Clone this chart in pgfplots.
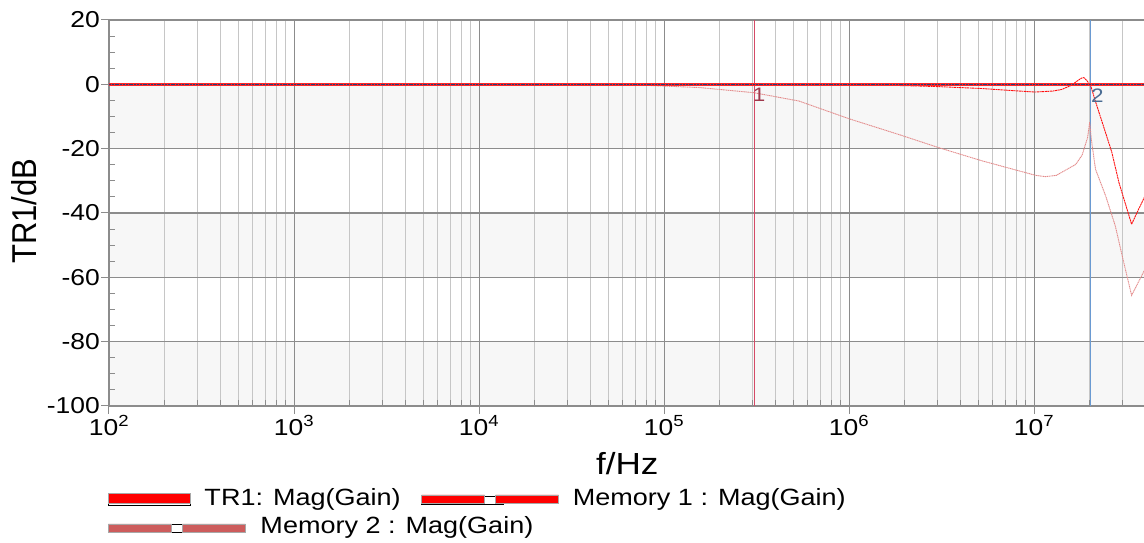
\documentclass[border=0pt]{standalone}
\usepackage{fontspec}
\setmainfont{Liberation Sans}[FakeStretch=1.15]
\newfontfamily\yfont{Liberation Sans}[FakeStretch=0.9]
\usepackage{pgfplots}
\pgfplotsset{compat=1.18}
\definecolor{memone}{HTML}{FF1010}
\definecolor{memtwoline}{HTML}{E38A8A}
\definecolor{memtwo}{HTML}{CD5C5C}
\definecolor{navyl}{HTML}{23407E}
\definecolor{mkone}{HTML}{D44A66}
\definecolor{mktwo}{HTML}{6A9AD2}
\definecolor{band}{HTML}{F7F7F7}
\definecolor{gmaj}{HTML}{8C8C8C}
\definecolor{gmin}{HTML}{C6C6C6}
\definecolor{legbord}{HTML}{A8A8A8}
\begin{document}
\begin{tikzpicture}
\begin{axis}[
  set layers,
  xmode=log, log basis x=10,
  scale only axis, width=1036.4pt, height=386pt,
  xmin=1e2, xmax=4e7, ymin=-100, ymax=20,
  xtick={1e2,1e3,1e4,1e5,1e6,1e7},
  minor xtick={200,300,400,500,600,700,800,900,
    2000,3000,4000,5000,6000,7000,8000,9000,
    2e4,3e4,4e4,5e4,6e4,7e4,8e4,9e4,
    2e5,3e5,4e5,5e5,6e5,7e5,8e5,9e5,
    2e6,3e6,4e6,5e6,6e6,7e6,8e6,9e6,
    2e7,3e7},
  xticklabels={10\textsuperscript{2},10\textsuperscript{3},10\textsuperscript{4},10\textsuperscript{5},10\textsuperscript{6},10\textsuperscript{7}},
  ytick={-100,-80,-60,-40,-20,0,20},
  yticklabels={-100,-80,-60,-40,-20,0,20},
  minor ytick={-95,-90,-85,-75,-70,-65,-55,-50,-45,-35,-30,-25,-15,-10,-5,5,10,15},
  xtick pos=bottom, ytick pos=left,
  tick align=outside,
  major tick length=8pt,
  minor tick length=-6pt,
  xmajorgrids, xminorgrids, ymajorgrids,
  major x grid style={gmaj, line width=1pt},
  minor x grid style={gmin, line width=1pt},
  major y grid style={gmaj, line width=1.2pt},
  axis line style={gmaj, line width=1.6pt},
  tick style={gmaj, line width=1pt},
  tick label style={font=\fontsize{23}{27}\selectfont, black},
  xticklabel style={inner sep=0pt, yshift=-1pt},
  yticklabel style={inner sep=0pt, xshift=-1pt},
  xlabel={f/Hz},
  xlabel style={at={(axis description cs:0.5,0)}, anchor=base, yshift=-69pt, font=\fontsize{30.5}{34}\selectfont},
  ylabel={\yfont TR1/dB},
  ylabel style={at={([xshift=-72pt]axis description cs:0,0.505)}, anchor=base, font=\fontsize{34.5}{38}\selectfont},
  legend columns=2,
  legend cell align=left,
  legend style={at={(axis description cs:0,0)}, anchor=north west, xshift=-1pt, yshift=-82pt,
    draw=none, fill=none, inner sep=0pt, outer sep=0pt, row sep=4pt, column sep=0pt,
    font=\fontsize{23.5}{28}\selectfont,
    nodes={inner sep=0pt, outer sep=0pt, text height=18pt, text depth=6pt}},
]
% background bands
\addplot[fill=band, draw=none, forget plot, on layer=axis background] coordinates {(1e2,0) (4.2e7,0) (4.2e7,-20) (1e2,-20) (1e2,0)};
\addplot[fill=band, draw=none, forget plot, on layer=axis background] coordinates {(1e2,-40) (4.2e7,-40) (4.2e7,-60) (1e2,-60) (1e2,-40)};
\addplot[fill=band, draw=none, forget plot, on layer=axis background] coordinates {(1e2,-80) (4.2e7,-80) (4.2e7,-100) (1e2,-100) (1e2,-80)};

% legend entries
\addlegendimage{legend image code/.code={\path (0pt,-5pt) rectangle (82pt,5pt); \filldraw[fill=red, draw=legbord, line width=0.5pt] (0pt,-3pt) rectangle (82pt,7pt);}}
\addlegendentry{\makebox[231pt][l]{\hspace*{14pt}TR1: Mag(Gain)}}
\addlegendimage{legend image code/.code={\path (0pt,-4pt) rectangle (82pt,4pt); \filldraw[overlay, fill=red, draw=legbord, line width=0.5pt] (0pt,-3pt) rectangle (63pt,5pt) (74pt,-3pt) rectangle (137pt,5pt);}}
\addlegendentry{\hspace*{69pt}Memory 1 : Mag(Gain)}
\addlegendimage{legend image code/.code={\path (0pt,-4pt) rectangle (82pt,4pt); \filldraw[overlay, fill=memtwo, draw=legbord, line width=0.5pt] (0pt,-4pt) rectangle (63pt,4pt) (74pt,-4pt) rectangle (137pt,4pt);}}
\addlegendentry{\hspace*{70pt}\rlap{Memory 2 : Mag(Gain)}}

% markers
\addplot[mkone, line width=1.3pt, forget plot] coordinates {(3.08e5,-100) (3.08e5,20)};
\addplot[mktwo, line width=0.8pt, forget plot] coordinates {(2.03e7,-100) (2.03e7,20)};

% Memory 2
\addplot[memtwoline, line width=0.9pt, dash pattern=on 1.2pt off 0.6pt, forget plot] coordinates {
(1e2,0) (5e4,0) (7.9e4,-0.3) (1.55e5,-1.0) (3.06e5,-2.6) (5.37e5,-5.2) (1e6,-10.7)
(1.86e6,-15.6) (3.06e6,-19.7) (5.25e6,-23.8) (1.02e7,-28.3) (1.15e7,-28.7) (1.32e7,-28.3)
(1.68e7,-24.9) (1.82e7,-22) (1.95e7,-16.5) (2.0e7,-11.7) (2.04e7,-17) (2.15e7,-26.4)
(2.44e7,-34.7) (2.75e7,-44) (3.0e7,-53.4) (3.37e7,-65.6) (3.9e7,-58.5) (4.1e7,-56)};

% Memory 1
\addplot[memone, line width=0.9pt, dash pattern=on 2pt off 0.6pt, forget plot] coordinates {
(1e2,0) (1e5,0) (3e5,-0.05) (1e6,-0.15) (2e6,-0.4) (3e6,-0.7) (5.2e6,-1.3) (7.9e6,-2.0)
(1.01e7,-2.4) (1.26e7,-2.1) (1.41e7,-1.6) (1.58e7,-0.4) (1.7e7,0.9) (1.8e7,1.9) (1.86e7,2.1)
(1.93e7,1.2) (2.03e7,-0.6) (2.14e7,-5) (2.34e7,-11.9) (2.63e7,-21) (2.88e7,-30.6)
(3.37e7,-43.5) (3.63e7,-39.5) (3.9e7,-35.8) (4.1e7,-33)};

% TR1 and reference line
\addplot[red!85!white, line width=2.6pt, forget plot] coordinates {(1e2,0) (4.2e7,0)};
\addplot[navyl, line width=1.3pt, dash pattern=on 2pt off 0.8pt, forget plot] coordinates {(1e2,0) (4.2e7,0)};

\node[mkone!75!black, font=\fontsize{19.5}{22}\selectfont] at (axis cs:3.27e5,-3.4) {1};
\node[mktwo!70!black, font=\fontsize{19.5}{22}\selectfont] at (axis cs:2.2e7,-3.6) {2};
\end{axis}
\pgfresetboundingbox
\path (-109pt,-137pt) rectangle (1035pt,406pt);
\end{tikzpicture}
\end{document}
